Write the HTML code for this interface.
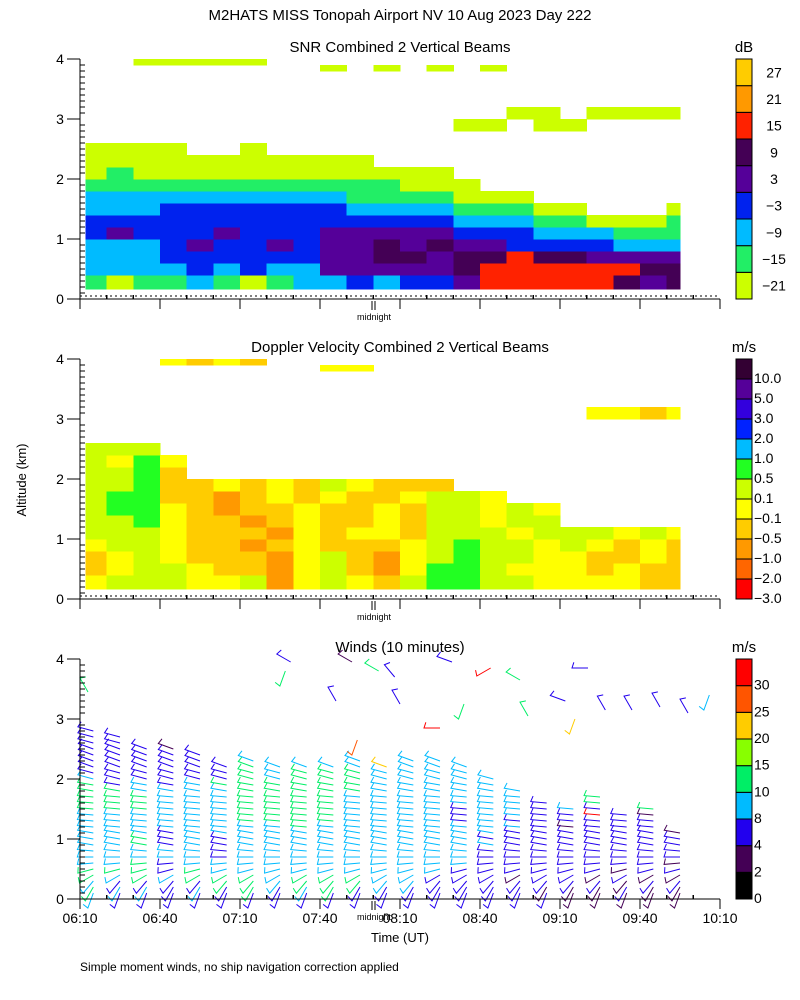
<!DOCTYPE html>
<html><head><meta charset="utf-8"><style>
html,body{margin:0;padding:0;background:#fff;}
svg{display:block;font-family:"Liberation Sans",sans-serif;}
</style></head><body>
<svg id="fig" xmlns="http://www.w3.org/2000/svg" width="800" height="1000" viewBox="0 0 800 1000">
<rect x="0" y="0" width="800" height="1000" fill="#fff"/>
<text x="400" y="20" text-anchor="middle" font-size="15">M2HATS MISS Tonopah Airport NV  10 Aug 2023 Day 222</text>
<text x="400" y="52" text-anchor="middle" font-size="15">SNR Combined 2 Vertical Beams</text>
<text x="400" y="352" text-anchor="middle" font-size="15">Doppler Velocity Combined 2 Vertical Beams</text>
<text x="400" y="652" text-anchor="middle" font-size="15">Winds (10 minutes)</text>
<text x="744" y="52" text-anchor="middle" font-size="15">dB</text>
<text x="744" y="352" text-anchor="middle" font-size="15">m/s</text>
<text x="744" y="652" text-anchor="middle" font-size="15">m/s</text>
<text transform="translate(26,480) rotate(-90)" text-anchor="middle" font-size="13">Altitude (km)</text>
<text x="400" y="942" text-anchor="middle" font-size="13">Time (UT)</text>
<text x="80" y="971" font-size="12">Simple moment winds, no ship navigation correction applied</text>
<g id="plots"></g>
</svg>
<script>
// ---- shared time / altitude edges ----
const colEdgesMin = [2,10,20,30,40,50,60,70,80,90,100,110,120,130,140,150,160,170,180,190,200,210,220,225];
const rowEdgesKm = [0.17,0.4,0.6,0.8,1.0,1.2,1.4,1.6,1.8,2.0,2.2,2.4,2.6,2.8,3.0,3.2,3.4,3.6,3.8,3.9,4.0];
// ---- SNR panel data (class index per 10-min column, rows bottom-up) ----
const snrLabels = ["-21","-15","-9","-3","3","9","15","21","27"];
const snrColors = ["#ccff00","#22ee66","#00bbff","#0022ee","#550099","#440055","#ff2200","#ff9900","#ffcc00"];
const snrRows = [
 "101"+"121012"+"23233"+"4"+"66666"+"545",
 "222"+"232322"+"44444"+"5"+"666666"+"55",
 "222"+"3333334"+"45545"+"5655"+"4444",
 "222"+"3433434"+"454544"+"3333"+"222",
 "343"+"3343334"+"4444"+"333"+"222"+"111",
 "33333333333333"+"222"+"11"+"000"+"1",
 "222"+"3333333"+"2222"+"111"+"00"+"..."+"0",
 "2222222222"+"1111"+"000"+"......",
 "111111111111"+"000"+"........",
 "01000000000000"+".........",
 "00000000000"+"............",
 "0000..0"+"................",
 ".......................",
 "..............00.00....",
 "................00.0000",
 ".......................",
 ".......................",
 ".......................",
 ".........0.0.0.0.......",
 "..00000................"
];
// ---- Doppler panel data ----
const dopLabels = ["-3.0","-2.0","-1.0","-0.5","-0.1","0.1","0.5","1.0","2.0","3.0","5.0","10.0"];
const dopColors = ["#ff0000","#ff6600","#ff9900","#ffcc00","#ffff00","#ccff00","#22ff22","#00bbff","#0022ff","#3300dd","#550099","#330033"];
const dopRows = [
 "4555"+"4452"+"4543"+"5665"+"5444"+"433",
 "3455"+"4332"+"4532"+"4665"+"4443"+"433",
 "3454"+"3332"+"4532"+"4565"+"5443"+"343",
 "4554"+"3323"+"4333"+"4565"+"5454"+"343",
 "5554"+"3332"+"4344"+"3555"+"4555"+"454",
 "5564"+"3323"+"4334"+"3554"+"55"+".....",
 "5664"+"3233"+"4334"+"3554"+"54"+".....",
 "5663"+"3234"+"3433"+"4554"+".......",
 "5563"+"3434"+"3543"+"33"+".........",
 "5563"+"...................",
 "5464"+"...................",
 "555"+"....................",
 ".......................",
 ".......................",
 "..................."+"4434",
 ".......................",
 ".......................",
 ".......................",
 ".........44............",
 "...4343................"
];
// ---- Winds panel data ----
const windLabels = ["0","2","4","8","10","15","20","25","30"];
const windColors = ["#000000","#440055","#2200ee","#00bbff","#00ee66","#88ff00","#ffcc00","#ff5500","#ff0000"];
const windColMin = [5,15,25,35,45,55,65,75,85,95,105,115,125,135,145,155,165,175,185,195,205,215,225];
// speed class per 0.1 km level starting at 0.1 km
const windCols = [
 "343443"+"3333"+"3333"+"44444"+"322222222",
 "232343"+"3333"+"3333"+"4444"+"222222222",
 "232444"+"3344"+"3333"+"44433"+"222222",
 "222322"+"3322"+"2333"+"33332"+"222221",
 "232443"+"3333"+"3333"+"33333"+"22222",
 "224433"+"2222"+"3333"+"33334"+"222",
 "244433"+"3333"+"3344"+"44444"+"4443",
 "223333"+"3333"+"3344"+"44444"+"333",
 "234433"+"3333"+"3444"+"44444"+"443",
 "244433"+"3333"+"3344"+"44444"+"443",
 "224433"+"3333"+"3333"+"33344"+"4433",
 "223333"+"3333"+"3333"+"33333"+"336",
 "223333"+"3333"+"3333"+"33333"+"3333",
 "222233"+"3333"+"3333"+"33333"+"3333",
 "222223"+"3333"+"3322"+"23333"+"333",
 "222222"+"2232"+"3333"+"33333"+"3",
 "222122"+"2222"+"2323"+"3333",
 "212222"+"2222"+"2222"+"22",
 "112222"+"2222"+"2122"+"3",
 "112122"+"2222"+"22282"+"44",
 "121212"+"2222"+"2222",
 "112122"+"2222"+"22214",
 "112121"+"2222"+"1"
];
const windDirProfile = [200,210,220,240,255,265,270,275,280,280,280,275,275,275,275,275,275,280,280,285,285,290,290,290,290,285,285,285];
const upMin = [3,77,79,102,112,118,120,104,96,139.5,154,144,135,165,168,182,190.5,185.6,197,207,217.5,228,236];
const upAlt = [3.45,3.8,3.95,3.95,3.8,3.7,3.25,2.65,3.3,3.95,3.85,3.25,2.85,3.65,3.05,3.3,3.85,3.0,3.15,3.15,3.2,3.1,3.4];
const upCls = [4,4,2,1,4,2,2,7,2,2,8,4,8,4,4,2,2,6,2,2,2,2,3];
const upDir = [330,200,300,300,300,320,330,200,330,290,240,200,270,300,330,290,270,200,330,330,330,330,200];

const NS = "http://www.w3.org/2000/svg";
const root = document.getElementById('plots');
const X0 = 80, X1 = 720;
function xScale(min){ return X0 + min*(X1-X0)/240; }
const panelBottoms = [299, 599, 899];
function yScale(km, p){ return panelBottoms[p] - 60*km; }
function mk(tag, attrs, parent){
  const e = document.createElementNS(NS, tag);
  for (const k in attrs) e.setAttribute(k, attrs[k]);
  (parent||root).appendChild(e);
  return e;
}

function drawGrid(rows, colors, p, name){
  const g = mk('g', {'shape-rendering':'crispEdges'});
  
  
  rows.forEach((row, r) => {
    for (let c = 0; c < row.length && c < colEdgesMin.length-1; c++){
      const ch = row[c];
      if (ch === '.') continue;
      const idx = parseInt(ch, 16);
      const xa = xScale(colEdgesMin[c]), xb = xScale(colEdgesMin[c+1]);
      const ya = yScale(rowEdgesKm[r+1], p), yb = yScale(rowEdgesKm[r], p);
      const rc = mk('rect', {x:xa, y:ya, width:xb-xa+0.5, height:yb-ya+0.5, fill:colors[idx]}, g);
      
      
    }
  });
}

function drawAxes(p, withLabels){
  const yb = panelBottoms[p], yt = yb - 240;
  const g = mk('g', {stroke:'#000', 'stroke-width':1.2, fill:'none', 'shape-rendering':'crispEdges'});
  
  
  mk('line', {x1:X0, y1:yt, x2:X0, y2:yb}, g);
  mk('line', {x1:67, y1:yb, x2:X1, y2:yb}, g);
  for (let i = 0; i <= 40; i++){
    const y = yb - i*6;
    if (i % 10 === 0) mk('line', {x1:67, y1:y, x2:X0, y2:y}, g);
    else mk('line', {x1:X0, y1:y, x2:X0+5, y2:y}, g);
  }
  for (let m = 0; m <= 240; m += 10){
    const x = xScale(m);
    if (m % 30 === 0) mk('line', {x1:x, y1:yb, x2:x, y2:yb+10}, g);
    else mk('line', {x1:x, y1:yb, x2:x, y2:yb-4}, g);
  }
  if (p < 2){
    const d = mk('line', {x1:X0, y1:yb-3, x2:X1, y2:yb-3, 'stroke-dasharray':'2,3', 'stroke-width':1}, g);
    
    
  }
  mk('line', {x1:372, y1:yb+2, x2:372, y2:yb+11, 'stroke-width':1}, g);
  mk('line', {x1:375, y1:yb+2, x2:375, y2:yb+11, 'stroke-width':1}, g);
  const mt = mk('text', {x:374, y:yb+21, 'text-anchor':'middle', 'font-size':9, fill:'#000', stroke:'none'});
  mt.textContent = 'midnight';
  
  
  for (let k = 0; k <= 4; k++){
    const t = mk('text', {x:60, y:yb - 60*k + 5, 'text-anchor':'middle', 'font-size':14});
    t.textContent = String(k);
    
    
  }
  if (withLabels){
    const labs = ['06:10','06:40','07:10','07:40','08:10','08:40','09:10','09:40','10:10'];
    labs.forEach((s, i) => {
      const t = mk('text', {x:xScale(i*30), y:yb+24, 'text-anchor':'middle', 'font-size':14});
      t.textContent = s;
      
      
    });
  }
}

function drawColorbar(p, colors, labels, name, labelMode){
  const yb = panelBottoms[p], n = colors.length, h = 240/n;
  const g = mk('g', {});
  
  
  for (let i = 0; i < n; i++){
    const y = yb - (i+1)*h;
    const r = mk('rect', {x:736, y:y, width:16, height:h, fill:colors[i], stroke:'#000', 'stroke-width':1}, g);
    
    
    const t = mk('text', {x:labelMode==='left'?754:774, y: labelMode==='left' ? y+h+4 : y+h/2+5, 'text-anchor':labelMode==='left'?'start':'middle', 'font-size':14}, g);
    t.textContent = labels[i].replace('-', '\u2212');
    
    
  }
}

function barb(xb, yb, dir, color, g){
  const rad = dir*Math.PI/180, L = 16;
  const dx = Math.sin(rad), dy = -Math.cos(rad);
  const xt = xb + dx*L, yt = yb + dy*L;
  const fr = rad + Math.PI*0.6;
  const fx = xt + Math.sin(fr)*6, fy = yt - Math.cos(fr)*6;
  const pl = mk('polyline', {points:`${xb},${yb} ${xt},${yt} ${fx},${fy}`, stroke:color, fill:'none', 'stroke-width':1}, g);
  
  
}

drawGrid(snrRows, snrColors, 0, 'snr-heatmap');
drawGrid(dopRows, dopColors, 1, 'doppler-heatmap');
const wg = mk('g', {});


windCols.forEach((col, k) => {
  for (let l = 0; l < col.length; l++){
    const ch = col[l];
    if (ch === '.') continue;
    const alt = 0.1*(l+1);
    barb(xScale(windColMin[k]), yScale(alt, 2), windDirProfile[Math.min(l, windDirProfile.length-1)], windColors[parseInt(ch)], wg);
  }
});
upMin.forEach((m, i) => barb(xScale(m), yScale(upAlt[i], 2), upDir[i], windColors[upCls[i]], wg));

drawAxes(0, false);
drawAxes(1, false);
drawAxes(2, true);
drawColorbar(0, snrColors, snrLabels, 'snr-colorbar', 'mid');
drawColorbar(1, dopColors, dopLabels, 'doppler-colorbar', 'left');
drawColorbar(2, windColors, windLabels, 'winds-colorbar', 'left');
</script>
</body></html>
